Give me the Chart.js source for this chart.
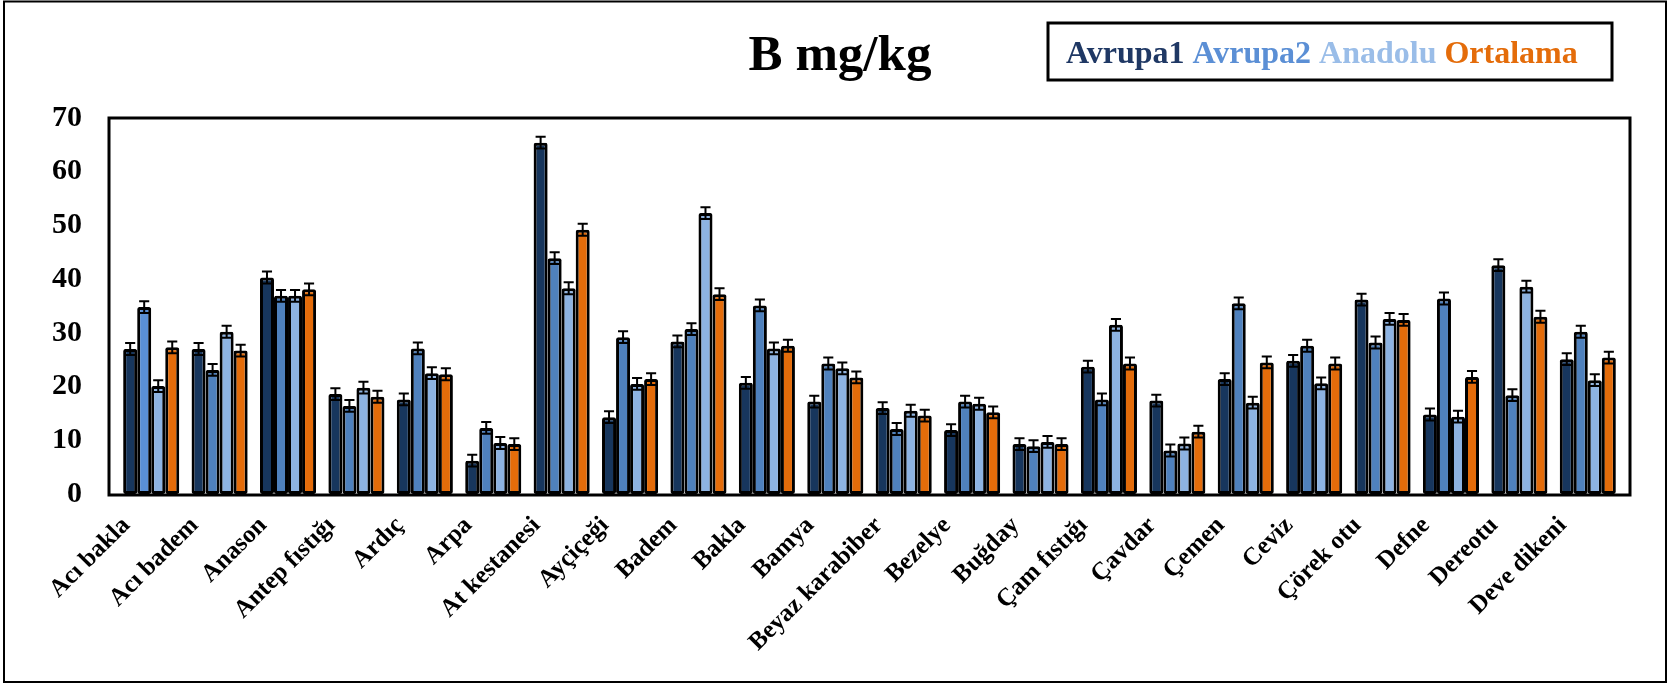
<!DOCTYPE html>
<html><head><meta charset="utf-8">
<script src="https://cdn.jsdelivr.net/npm/chart.js@4/dist/chart.umd.min.js"></script>
<style>html,body{margin:0;padding:0;background:#fff;}</style>
</head><body>
<canvas id="c" width="1668" height="683"></canvas>
<script>
const chartTitle = 'B mg/kg';
const categories = ['Acı bakla','Acı badem','Anason','Antep fıstığı','Ardıç','Arpa','At kestanesi','Ayçiçeği','Badem','Bakla','Bamya','Beyaz karabiber','Bezelye','Buğday','Çam fıstığı','Çavdar','Çemen','Ceviz','Çörek otu','Defne','Dereotu','Deve dikeni'];
const seriesNames = ['Avrupa1','Avrupa2','Anadolu','Ortalama'];
const avrupa1 = [27.0,27.0,40.3,18.6,17.6,6.2,65.4,14.3,28.4,20.7,17.2,16.0,11.9,9.3,23.7,17.4,21.4,24.8,36.2,14.8,42.6,25.1];
const avrupa2 = [34.8,23.1,36.9,16.4,27.1,12.3,43.9,29.2,30.7,35.1,24.3,12.1,17.2,8.9,17.6,8.1,35.5,27.6,28.2,36.4,18.4,30.2];
const anadolu = [20.1,30.2,36.9,19.8,22.5,9.5,38.3,20.5,52.3,27.1,23.4,15.5,16.8,9.7,31.5,9.4,17.0,20.6,32.6,14.4,38.6,21.2];
const ortalama = [27.3,26.7,38.1,18.1,22.3,9.3,49.2,21.4,37.2,27.6,21.7,14.6,15.2,9.3,24.3,11.6,24.5,24.3,32.4,21.8,33.0,25.4];
const errorSize = [1.1,1.1,1.1,1.1];
const yTicks = [0,10,20,30,40,50,60,70];

const barColors = ['#17365D','#4F81BD','#8DB3E2','#E46C0A'];
const legendColors = ['#1F3864','#5B8FD5','#9ABDE8','#E46C0A'];
const FONT = '"Liberation Serif","Times New Roman",serif';

const seriesData = [avrupa1, avrupa2, anadolu, ortalama];

const errorBarPlugin = {
  id: 'errorBars',
  afterDatasetsDraw(chart) {
    const ctx = chart.ctx;
    const ys = chart.scales.y;
    ctx.save();
    ctx.strokeStyle = '#000';
    ctx.lineWidth = 2;
    chart.data.datasets.forEach((ds, di) => {
      const meta = chart.getDatasetMeta(di);
      meta.data.forEach((bar, i) => {
        const v = ds.data[i];
        const e = errorSize[di];
        const yTop = ys.getPixelForValue(v + e);
        const yBot = ys.getPixelForValue(v - e);
        const hw = bar.width * 0.36;
        ctx.beginPath();
        ctx.moveTo(bar.x, yTop); ctx.lineTo(bar.x, yBot);
        ctx.moveTo(bar.x - hw, yTop); ctx.lineTo(bar.x + hw, yTop);
        ctx.moveTo(bar.x - hw, yBot); ctx.lineTo(bar.x + hw, yBot);
        ctx.stroke();
      });
    });
    ctx.restore();
  }
};

const framePlugin = {
  id: 'frame',
  afterDatasetsDraw(chart) {
    const ctx = chart.ctx, a = chart.chartArea;
    ctx.save();
    ctx.strokeStyle = '#000';
    ctx.lineWidth = 3;
    ctx.strokeRect(a.left - 8, a.top, (a.right - a.left) + 16, a.bottom - a.top + 1);
    ctx.restore();
  },
  afterDraw(chart) {
    const ctx = chart.ctx;
    ctx.save();
    ctx.strokeStyle = '#000';
    ctx.lineWidth = 2;
    ctx.strokeRect(4, 1.5, chart.width - 6, chart.height - 2.5);
    ctx.fillStyle = '#000';
    ctx.font = 'bold 51px ' + FONT;
    ctx.textAlign = 'center';
    ctx.textBaseline = 'alphabetic';
    ctx.fillText(chartTitle, 840, 70);
    ctx.lineWidth = 3;
    ctx.strokeRect(1048, 23, 564, 57);
    ctx.font = 'bold 32px ' + FONT;
    ctx.textAlign = 'left';
    let x = 1066;
    seriesNames.forEach((n, i) => {
      ctx.fillStyle = legendColors[i];
      ctx.fillText(n, x, 63);
      x += ctx.measureText(n + ' ').width;
    });
    ctx.restore();
  }
};

new Chart(document.getElementById('c'), {
  type: 'bar',
  data: {
    labels: categories,
    datasets: seriesNames.map((n, i) => ({
      label: n,
      data: seriesData[i],
      backgroundColor: (i === 1) ? (c => c.dataIndex === 0 ? '#5A90D6' : barColors[1]) : barColors[i],
      borderColor: '#000',
      borderWidth: 3,
      borderRadius: 2,
      borderSkipped: false,
      categoryPercentage: 0.82,
      barPercentage: 1.0
    }))
  },
  options: {
    responsive: false,
    animation: false,
    devicePixelRatio: 1,
    layout: { padding: { top: 118, left: 0, right: 46, bottom: 0 } },
    plugins: { legend: { display: false }, title: { display: false }, tooltip: { enabled: false } },
    scales: {
      x: {
        grid: { display: false, drawTicks: false },
        border: { display: false },
        ticks: {
          color: '#000',
          font: { family: FONT, size: 25, weight: 'bold' },
          maxRotation: 45, minRotation: 45, autoSkip: false,
          padding: 17, labelOffset: -25
        },
        afterFit: s => { s.height = 189; }
      },
      y: {
        min: 0, max: 70,
        grid: { display: false, drawTicks: false },
        border: { display: false },
        afterBuildTicks: s => { s.ticks = yTicks.map(v => ({ value: v })); },
        ticks: {
          color: '#000',
          font: { family: FONT, size: 30, weight: 'bold' },
          padding: 35
        },
        afterFit: s => { s.width = 117; }
      }
    }
  },
  plugins: [errorBarPlugin, framePlugin]
});
</script>
</body></html>
